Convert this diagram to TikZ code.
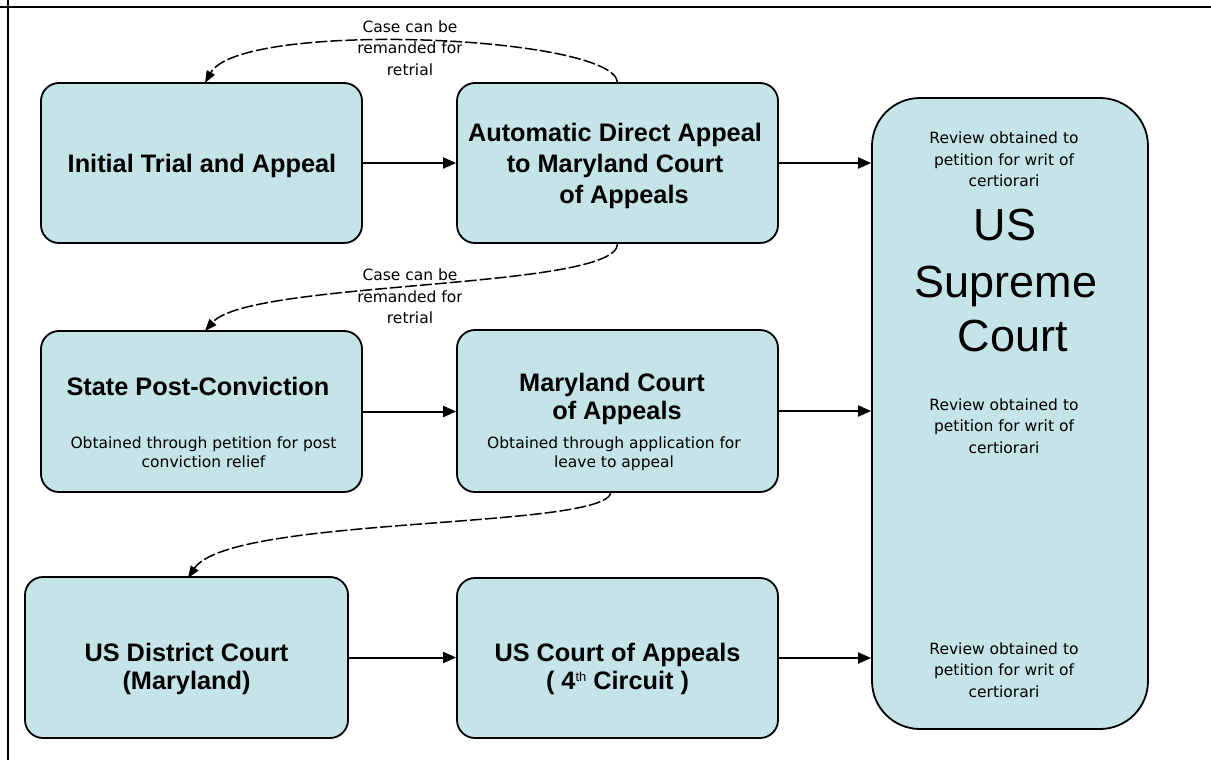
\documentclass[tikz,border=0pt]{standalone}
\usepackage{fontspec}
\setmainfont{Liberation Sans}
\newfontfamily\smallfont{DejaVu Sans}
\usetikzlibrary{arrows.meta}
\definecolor{boxfill}{RGB}{197,228,232}
\begin{document}
\begin{tikzpicture}[x=1pt,y=-1pt,
  court/.style={draw=black, line width=1.8pt, fill=boxfill, rounded corners=18pt, inner sep=0pt},
  tl/.style={anchor=base, inner sep=0pt, font=\fontsize{25.3}{30}\selectfont\bfseries},
  st/.style={anchor=base, inner sep=0pt, font=\smallfont\fontsize{15.5}{18}\selectfont},
  bigt/.style={anchor=base, inner sep=0pt, font=\fontsize{45}{56}\selectfont},
  arr/.style={line width=2pt, -{Triangle[length=13pt,width=11pt]}},
  darr/.style={line width=1.5pt, dash pattern=on 12pt off 3pt, -{Triangle[length=12pt,width=9pt]}}
]
\useasboundingbox (0,0) rectangle (1211,760);
% frame
\draw[line width=2.5pt] (0,7) -- (1211,7);
\draw[line width=2.5pt] (8,0) -- (8,760);

% boxes
\node[court, minimum width=321pt, minimum height=160pt] (b1) at (201.5,163) {};
\node[court, minimum width=321pt, minimum height=160pt] (b2) at (617.5,163) {};
\node[court, minimum width=321pt, minimum height=161pt] (b3) at (201.5,411.5) {};
\node[court, minimum width=321pt, minimum height=162pt] (b4) at (617.5,411) {};
\node[court, minimum width=323pt, minimum height=161pt] (b5) at (186.5,657.5) {};
\node[court, minimum width=321pt, minimum height=160pt] (b6) at (617.5,658) {};
\node[court, rounded corners=48pt, minimum width=276pt, minimum height=631pt] (sc) at (1010,413.5) {};

% titles
\node[tl] (t1) at (202,172) {Initial Trial and Appeal};
\node[tl] (t2a) at (615,141) {Automatic Direct Appeal};
\node[tl] (t2b) at (615,172) {to Maryland Court};
\node[tl] (t2c) at (624,203) {of Appeals};
\node[tl] (t3) at (198,395) {State Post-Conviction};
\node[st] (s3a) at (203.5,448) {Obtained through petition for post};
\node[st] (s3b) at (203.5,467) {conviction relief};
\node[tl] (t4a) at (612,391) {Maryland Court};
\node[tl] (t4b) at (617,419) {of Appeals};
\node[st] (s4a) at (614,448) {Obtained through application for};
\node[st] (s4b) at (614,467) {leave to appeal};
\node[tl] (t5a) at (186.5,661) {US District Court};
\node[tl] (t5b) at (186.5,689) {(Maryland)};
\node[tl] (t6a) at (617.5,661) {US Court of Appeals};
\node[tl] (t6b) at (617.5,689) {( 4\raisebox{8pt}{\fontsize{13}{13}\selectfont\mdseries th} Circuit )};

% supreme court texts
\node[st] (r1a) at (1004,143) {Review obtained to};
\node[st] (r1b) at (1004,165) {petition for writ of};
\node[st] (r1c) at (1004,186) {certiorari};
\node[bigt] (u1) at (1005,240) {US};
\node[bigt] (u2) at (1006,297) {Supreme};
\node[bigt] (u3) at (1013,351) {Court};
\node[st] (r2a) at (1004,410) {Review obtained to};
\node[st] (r2b) at (1004,431) {petition for writ of};
\node[st] (r2c) at (1004,453) {certiorari};
\node[st] (r3a) at (1004,654) {Review obtained to};
\node[st] (r3b) at (1004,675) {petition for writ of};
\node[st] (r3c) at (1004,697) {certiorari};

% solid arrows
\draw[arr] (b1.east) -- (b2.west);
\draw[arr] (b2.east) -- (b2.east -| sc.west);
\draw[arr] (b3.east) -- (b3.east -| b4.west);
\draw[arr] (b4.east) -- (b4.east -| sc.west);
\draw[arr] (b5.east) -- (b5.east -| b6.west);
\draw[arr] (b6.east) -- (b6.east -| sc.west);

% dashed remand curves
\coordinate (c1e) at (205,83);
\coordinate (c2e) at (205,331);
\coordinate (c3s) at (611,492);
\coordinate (c3e) at (188,578);
\draw[darr] (b2.north) .. controls (612,35) and (240,20) .. (c1e);
\draw[darr] (b2.south) .. controls (617,290) and (250,280) .. (c2e);
\draw[darr] (c3s) .. controls (608,530) and (230,515) .. (c3e);

% remand labels
\node[st] (l1a) at (410,33) {Case can be};
\begin{scope}
\clip (358,35) rectangle (461,62);
\node[st] (l1b) at (410,54) {remanded for};
\end{scope}
\node[st] (l1c) at (410,76) {retrial};
\node[st] (l2a) at (410,280) {Case can be};
\begin{scope}
\clip (358,283) rectangle (461,309);
\node[st] (l2b) at (410,302) {remanded for};
\end{scope}
\node[st] (l2c) at (410,323) {retrial};
\end{tikzpicture}
\end{document}
